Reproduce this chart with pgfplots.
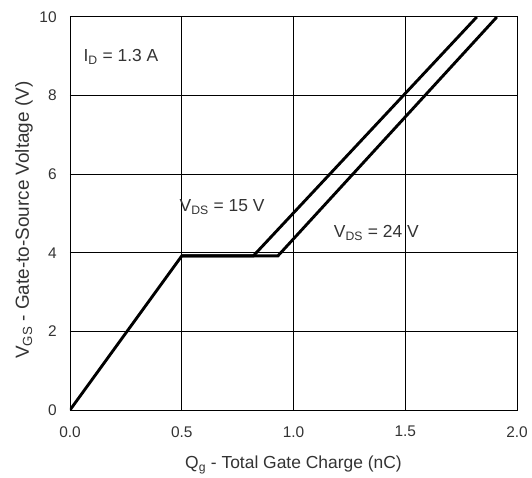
\documentclass[border=0pt]{standalone}
\usepackage{fontspec}
\setmainfont{Liberation Sans}
\usepackage{pgfplots}
\pgfplotsset{compat=1.18}
\begin{document}
\fontsize{15.5}{18}\selectfont
\begin{tikzpicture}
\begin{axis}[
 scale only axis, width=447bp, height=393bp,
 xmin=0,xmax=2,ymin=0,ymax=10,
 xtick={0,0.5,1,1.5,2}, ytick={0,2,4,6,8,10},
 xticklabels={0.0,0.5,1.0,1.5,2.0},
 grid=major, major grid style={black, line width=1pt},
 axis line style={black,line width=1pt},
 tick style={draw=none},
 /pgf/number format/assume math mode=true,
 ticklabel style={font=\fontsize{15.5}{18}\selectfont, text=black!80},
 xticklabel style={yshift=-11bp},
 yticklabel style={xshift=-8bp},
 xlabel={Q\textsubscript{g} - Total Gate Charge (nC)},
 ylabel={V\textsubscript{GS} - Gate-to-Source Voltage (V)},
 xlabel style={at={(axis description cs:0.5,-0.14)}, anchor=center, font=\fontsize{17.5}{20}\selectfont, text=black!80},
 ylabel style={at={(axis description cs:-0.103,0.483)}, anchor=center, font=\fontsize{19}{22}\selectfont, text=black!80},
 clip=true,
]
\addplot[black, line width=2.9pt] coordinates {(0,0) (0.5,3.92) (0.82,3.92) (1.82,10)};
\addplot[black, line width=2.9pt] coordinates {(0.5,3.92) (0.93,3.92) (1.91,10)};
\node[anchor=west, inner sep=0, text=black!80, font=\fontsize{17.5}{20}\selectfont] at (axis cs:0.06,8.98) {I\textsubscript{D} = 1.3 A};
\node[anchor=west, inner sep=0, text=black!80, font=\fontsize{17.5}{20}\selectfont] at (axis cs:0.49,5.17) {V\textsubscript{DS} = 15 V};
\node[anchor=west, inner sep=0, text=black!80, font=\fontsize{17.5}{20}\selectfont] at (axis cs:1.18,4.5) {V\textsubscript{DS} = 24 V};
\coordinate (sw) at (rel axis cs:0,0);
\coordinate (ne) at (rel axis cs:1,1);
\end{axis}
\pgfresetboundingbox
\path ([shift={(-70bp,-68bp)}]sw) rectangle ([shift={(15bp,17bp)}]ne);
\end{tikzpicture}
\end{document}
